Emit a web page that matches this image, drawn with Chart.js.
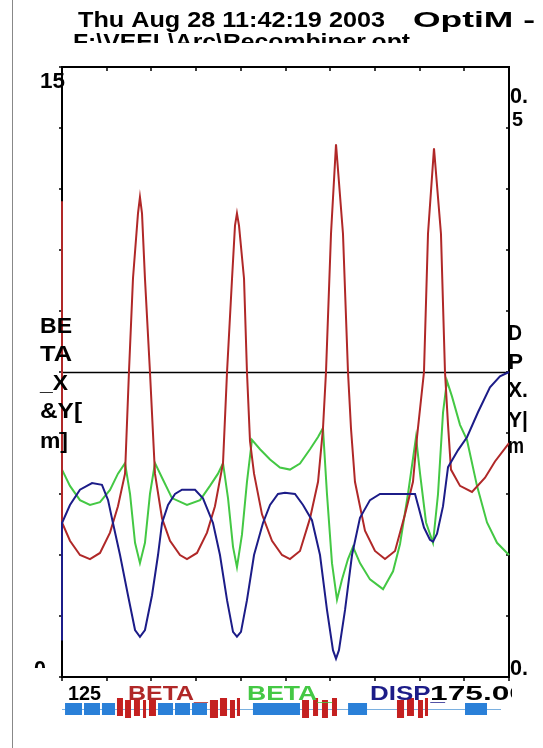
<!DOCTYPE html>
<html><head><meta charset="utf-8">
<script src="https://cdn.jsdelivr.net/npm/chart.js@4.4.1/dist/chart.umd.min.js"></script>
<style>html,body{margin:0;padding:0;background:#fff;}canvas{display:block;}</style>
</head><body>
<canvas id="c" width="543" height="748"></canvas>
<script>
// ---- data ----
const betaXs = [125.00,125.00,125.89,127.01,128.13,129.25,130.37,131.26,132.05,132.49,132.94,133.50,133.72,133.95,134.28,134.84,135.40,136.19,137.08,138.20,138.98,140.10,141.22,142.11,143.01,143.46,144.02,144.35,144.57,144.80,145.36,145.69,146.03,146.48,147.37,148.49,149.61,150.50,151.62,152.74,153.64,154.19,154.53,155.09,155.65,156.43,156.99,157.33,157.77,158.89,160.01,161.13,162.25,163.37,164.26,164.71,165.49,165.94,166.61,167.39,167.84,168.18,168.51,169.52,170.86,172.32,173.43,175.00];
const betaX  = [11.7,3.8,3.35,3.0,2.9,3.05,3.55,4.2,5.0,7.5,9.8,11.4,11.8,11.4,9.8,7.5,5.0,3.9,3.35,3.0,2.9,3.05,3.55,4.2,5.26,7.5,9.8,11.1,11.4,11.1,9.8,7.5,5.8,5.0,4.0,3.35,3.0,2.9,3.1,3.9,4.8,6.1,7.5,10.9,13.1,10.9,7.5,6.1,4.8,3.6,3.1,2.9,3.1,4.0,4.8,5.9,7.5,10.9,13.0,10.9,7.5,6.2,5.1,4.7,4.55,4.9,5.3,5.75];
const betaYs = [125.00,125.89,127.01,128.13,129.25,130.37,131.26,132.05,132.61,133.17,133.72,134.28,134.84,135.40,136.19,137.30,138.98,140.44,141.55,142.45,143.01,143.57,144.13,144.57,145.13,145.69,146.25,147.15,148.27,149.38,150.50,151.62,152.74,153.64,154.19,154.64,155.20,155.76,156.32,156.99,157.55,158.33,159.45,160.91,162.03,162.81,163.70,164.60,165.05,165.72,166.50,167.06,167.62,168.06,168.62,169.52,170.30,171.42,172.54,173.66,175.00];
const betaY  = [5.1,4.7,4.35,4.23,4.3,4.6,5.0,5.26,4.5,3.3,2.8,3.3,4.5,5.26,4.9,4.4,4.23,4.35,4.7,5.0,5.26,4.4,3.2,2.7,3.5,4.8,5.83,5.6,5.35,5.15,5.1,5.25,5.6,5.9,6.12,4.5,2.8,1.9,2.4,2.9,3.2,2.8,2.4,2.16,2.6,3.27,4.5,5.9,5.0,3.8,3.3,4.5,6.5,7.28,6.9,6.2,5.83,4.7,3.8,3.3,3.0];
const dispXs = [125.00,125.00,125.89,127.01,128.36,129.47,130.15,130.70,131.49,132.38,133.17,133.72,134.28,135.07,135.74,136.19,136.86,137.64,138.42,139.88,140.77,141.89,142.67,143.46,144.13,144.57,145.02,145.69,146.48,147.48,148.27,149.16,149.94,151.06,151.96,152.96,153.86,154.64,155.31,155.65,155.98,156.66,157.44,158.33,159.45,160.57,162.81,164.49,164.82,165.49,166.16,166.50,166.95,167.62,168.18,169.30,170.30,171.53,172.87,173.99,175.00];
const dispX  = [-0.44,-0.2475,-0.218,-0.193,-0.182,-0.185,-0.21,-0.2475,-0.30,-0.366,-0.423,-0.434,-0.423,-0.366,-0.30,-0.2475,-0.218,-0.20,-0.193,-0.193,-0.207,-0.2475,-0.30,-0.374,-0.426,-0.434,-0.426,-0.374,-0.30,-0.2475,-0.218,-0.20,-0.198,-0.20,-0.218,-0.243,-0.30,-0.39,-0.456,-0.47,-0.456,-0.39,-0.30,-0.239,-0.21,-0.20,-0.20,-0.20,-0.218,-0.255,-0.275,-0.278,-0.265,-0.22,-0.156,-0.128,-0.107,-0.066,-0.025,-0.007,0];
// lattice elements [start, end] along s
const dipoles = [[125.34,127.24],[127.46,129.25],[129.47,130.93],[135.74,137.42],[137.64,139.32],[139.54,141.22],[146.36,151.62],[157.0,159.12],[170.08,172.54]];
const quads = [[131.15,131.82],[132.05,132.72],[133.05,133.72],[134.06,134.40],[134.73,135.51],
  [141.55,142.45],[142.67,143.46],[143.79,144.35],[144.57,144.91],
  [151.85,152.63],[153.08,153.64],[154.08,154.75],[155.20,155.76],
  [162.47,163.26],[163.59,164.37],[164.82,165.38],[165.60,165.94]];
const xMin = 125, xMax = 175, yMin = 0, yMax = 15, dMin = -0.5, dMax = 0.5;
const titleA = "Thu Aug 28 11:42:19 2003", titleB = "OptiM -", titleC = "F:\\VEEL\\Arc\\Recombiner.opt";
const legendNames = ["BETA_", "BETA_", "DISP_"];
const leftTitle = ["BE","TA","_X","&Y[","m]"];
const rightTitle = ["D","P","X.","Y|","m"];

const RED = '#b02828', GREEN = '#44c844', BLUE = '#1c1c88';
const zip = (xs, ys) => xs.map((x, i) => ({x, y: ys[i]}));

function txt(ctx, s, x, y, w, color, size, clip) {
  ctx.save();
  if (clip) { ctx.beginPath(); ctx.rect(clip[0], clip[1], clip[2], clip[3]); ctx.clip(); }
  ctx.font = 'bold ' + size + 'px "Liberation Sans", Arial, sans-serif';
  ctx.textBaseline = 'alphabetic';
  const m = ctx.measureText(s).width;
  ctx.translate(x, y);
  ctx.scale(w / m, 1);
  ctx.fillStyle = color;
  ctx.fillText(s, 0, 0);
  ctx.restore();
}

const deco = {
  id: 'deco',
  beforeDraw(chart) {
    const ctx = chart.ctx;
    ctx.save(); ctx.fillStyle = '#fff'; ctx.fillRect(0, 0, chart.width, chart.height);
    ctx.strokeStyle = '#888'; ctx.lineWidth = 1;
    ctx.beginPath(); ctx.moveTo(12.5, 0); ctx.lineTo(12.5, chart.height); ctx.stroke();
    ctx.restore();
  },
  beforeDatasetsDraw(chart) {
    const ctx = chart.ctx, a = chart.chartArea, xs = chart.scales.x, ys = chart.scales.y, y2 = chart.scales.y2;
    ctx.save();
    const yz = Math.round(y2.getPixelForValue(0)) + 0.5;
    ctx.strokeStyle = '#000'; ctx.lineWidth = 1.3;
    ctx.beginPath(); ctx.moveTo(a.left, yz); ctx.lineTo(a.right, yz); ctx.stroke();
    ctx.lineWidth = 2;
    ctx.strokeRect(a.left, a.top, a.right - a.left, a.bottom - a.top);
    ctx.lineWidth = 1.5;
    ctx.beginPath();
    for (let v = xMin; v <= xMax + 1e-6; v += 5) {
      const p = Math.round(xs.getPixelForValue(v));
      ctx.moveTo(p, a.top); ctx.lineTo(p, a.top + 4);
      ctx.moveTo(p, a.bottom); ctx.lineTo(p, a.bottom + 4);
    }
    for (let v = yMin; v <= yMax + 1e-6; v += 1.5) {
      const p = Math.round(ys.getPixelForValue(v));
      ctx.moveTo(a.left - 3, p); ctx.lineTo(a.left, p);
    }
    for (let v = dMin; v <= dMax + 1e-6; v += 0.1) {
      const p = Math.round(y2.getPixelForValue(v));
      ctx.moveTo(a.right - 3, p); ctx.lineTo(a.right, p);
    }
    ctx.stroke();
    ctx.restore();
  },
  afterDatasetsDraw(chart) {
    const ctx = chart.ctx, a = chart.chartArea, xs = chart.scales.x;
    ctx.save();
    // lattice
    const ly = 709;
    ctx.strokeStyle = '#7ab0e0'; ctx.lineWidth = 1;
    ctx.beginPath(); ctx.moveTo(a.left, ly + 0.5); ctx.lineTo(a.right - 8, ly + 0.5); ctx.stroke();
    ctx.fillStyle = '#2a80d8';
    dipoles.forEach(d => { const p0 = xs.getPixelForValue(d[0]), p1 = xs.getPixelForValue(d[1]); ctx.fillRect(p0, 703, p1 - p0, 12); });
    ctx.fillStyle = '#c42020';
    quads.forEach((q, i) => { const p0 = xs.getPixelForValue(q[0]), p1 = xs.getPixelForValue(q[1]); ctx.fillRect(p0, i % 2 ? 700 : 698, p1 - p0, 18); });
    ctx.restore();

    // texts
    txt(ctx, titleA, 78, 27, 307, '#000', 22);
    txt(ctx, titleB, 413, 27, 122, '#000', 22);
    txt(ctx, titleC, 73, 49, 337, '#000', 22, [0, 0, 543, 43]);
    txt(ctx, '15', 40, 88, 25, '#000', 22);
    txt(ctx, '0', 34, 676, 12, '#000', 22, [0, 600, 60, 68]);
    txt(ctx, '0.', 510, 103, 18, '#000', 22);
    txt(ctx, '5', 512, 126, 11, '#000', 20);
    txt(ctx, '0.', 510, 675, 18, '#000', 22);
    const lb = [333, 361, 390, 418, 448], lw = [32, 32, 28, 42, 28];
    leftTitle.forEach((s, i) => txt(ctx, s, 40, lb[i], lw[i], '#000', 22));
    const rb = [340, 369, 397, 427, 453], rw = [14, 15, 20, 20, 16];
    rightTitle.forEach((s, i) => txt(ctx, s, 508, rb[i], rw[i], '#000', 22));
    txt(ctx, String(xMin), 68, 700, 33, '#000', 21);
    txt(ctx, legendNames[0], 128, 700, 80, RED, 21);
    txt(ctx, legendNames[1], 247, 700, 85, GREEN, 21);
    txt(ctx, legendNames[2], 370, 700, 75, BLUE, 21);
    txt(ctx, xMax.toFixed(2), 430, 700, 97, '#000', 21, [0, 600, 512, 148]);
    txt(ctx, 'X', 131, 722, 12, RED, 18, [0, 700, 543, 8]);
    txt(ctx, 'Y', 249, 722, 13, GREEN, 18, [0, 700, 543, 8]);
    txt(ctx, 'X', 368, 722, 12, BLUE, 18, [0, 700, 543, 8]);
    txt(ctx, 'Y', 496, 722, 12, BLUE, 18, [0, 700, 543, 8]);
  }
};

new Chart(document.getElementById('c'), {
  type: 'line',
  data: {
    datasets: [
      { label: 'BETA_X', data: zip(betaXs, betaX), yAxisID: 'y', borderColor: RED, borderWidth: 2, pointRadius: 0, tension: 0, order: 2, clip: 6 },
      { label: 'BETA_Y', data: zip(betaYs, betaY), yAxisID: 'y', borderColor: GREEN, borderWidth: 2, pointRadius: 0, tension: 0, order: 3, clip: 6 },
      { label: 'DISP_X', data: zip(dispXs, dispX), yAxisID: 'y2', borderColor: BLUE, borderWidth: 2, pointRadius: 0, tension: 0, order: 1, clip: 6 }
    ]
  },
  options: {
    responsive: false, animation: false, devicePixelRatio: 1,
    layout: { padding: { left: 62, right: 34, top: 67, bottom: 71 } },
    plugins: { legend: { display: false }, tooltip: { enabled: false }, title: { display: false } },
    scales: {
      x: { type: 'linear', min: xMin, max: xMax, display: false },
      y: { type: 'linear', min: yMin, max: yMax, display: false },
      y2: { type: 'linear', min: dMin, max: dMax, display: false }
    }
  },
  plugins: [deco]
});
</script>
</body></html>
